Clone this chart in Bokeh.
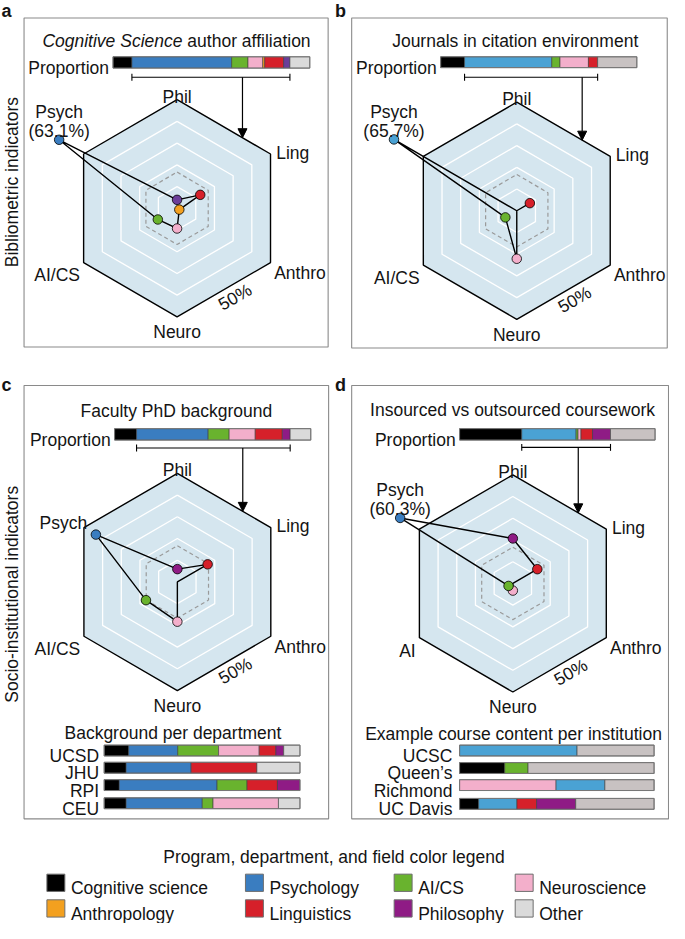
import math
from bokeh.plotting import figure
from bokeh.models import Range1d, Arrow, NormalHead
from bokeh.core.properties import value
from bokeh.embed import file_html
from bokeh.resources import INLINE

# ---------------- data ----------------
CATEGORIES = ["Cognitive science", "Psychology", "AI/CS", "Neuroscience",
              "Anthropology", "Linguistics", "Philosophy", "Other"]
RADAR_AXES = ["Phil", "Ling", "Anthro", "Neuro", "AI/CS", "Psych"]
RADAR_FIELDS = ["Philosophy", "Linguistics", "Anthropology", "Neuroscience", "AI/CS", "Psychology"]

a_proportion = [9.6, 50.7, 8.3, 7.5, 1.0, 9.6, 3.2, 10.1]
a_radar = [3.9, 12.4, 1.2, 9.3, 10.3, 63.1]

b_proportion = [12.2, 44.5, 4.2, 14.5, 0.0, 4.7, 0.0, 20.0]
b_radar = [0.0, 7.0, 0.0, 22.1, 6.1, 65.7]

c_proportion = [11.2, 36.5, 10.7, 13.3, 0.0, 13.8, 4.0, 10.5]
c_radar = [5.9, 16.2, 0.0, 18.3, 16.8, 43.6]

d_proportion = [31.8, 27.8, 1.0, 1.5, 0.0, 5.9, 9.2, 22.8]
d_radar = [20.7, 13.1, 0.0, 3.3, 2.3, 60.3]

c_departments = ["UCSD", "JHU", "RPI", "CEU"]
c_ucsd = [12.5, 25.0, 20.8, 20.7, 0.0, 8.5, 4.0, 8.3]
c_jhu = [11.2, 33.2, 0.0, 0.0, 0.0, 33.6, 0.0, 22.0]
c_rpi = [7.7, 49.9, 15.3, 0.0, 0.0, 15.5, 11.5, 0.0]
c_ceu = [11.2, 38.9, 5.5, 33.4, 0.0, 0.0, 0.0, 11.0]

d_institutions = ["UCSC", "Queen\u2019s", "Richmond", "UC Davis"]
d_ucsc_fields = ["Psychology", "Other"]
d_ucsc_values = [60.4, 39.6]
d_queens_fields = ["Cognitive science", "AI/CS", "Other"]
d_queens_values = [23.2, 12.0, 64.8]
d_richmond_fields = ["Neuroscience", "Psychology", "Other"]
d_richmond_values = [49.6, 25.1, 25.3]
d_ucdavis_fields = ["Cognitive science", "Psychology", "Linguistics", "Philosophy", "Other"]
d_ucdavis_values = [9.8, 19.7, 10.1, 20.1, 40.3]

# ---------------- style ----------------
FONT = "Liberation Sans"
FS = 17.5
TEXT = "#141414"
HEX_FILL = "#D5E6EF"
PAL = {"Cognitive science": "#000000", "Psychology": "#3A7DC0", "AI/CS": "#69B32E",
       "Neuroscience": "#F3AFCB", "Anthropology": "#F3A01F", "Linguistics": "#D6202A",
       "Philosophy": "#8F1B85", "Other": "#DADADA"}
PAL_A = dict(PAL, Philosophy="#6B3E99")
PAL_BD = dict(PAL, Psychology="#4AA2D4", Other="#C8C2C2")
R = 110.0
SCALE_MAX = 50.0
RING_LEVELS = [10, 20, 30, 40]
UNIFORM = 100.0 / 6
ANGLES = [90, 30, -30, -90, -150, 150]

p = figure(width=669, height=923, x_range=Range1d(2, 684), y_range=Range1d(939, 4),
           output_backend="svg", toolbar_location=None, min_border=0,
           x_axis_type=None, y_axis_type=None)
p.outline_line_color = None
p.background_fill_color = "white"


def T(x, y, s, size=FS, align="left", base="alphabetic", style="normal", angle=0.0):
    p.text(x=[x], y=[y], text=[s], text_font=value(FONT), text_font_size=value(f"{size}px"),
           text_align=align, text_baseline=base, text_font_style=style, angle=angle,
           text_color=TEXT)


def stacked(x0, width, ytop, h, cats, vals, pal):
    total = float(sum(vals))
    lefts, rights, cols, edges = [], [], [], {}
    acc = 0.0
    for c, v in zip(cats, vals):
        if v <= 0:
            continue
        l = x0 + acc / total * width
        acc += v
        r = x0 + acc / total * width
        lefts.append(l); rights.append(r); cols.append(pal[c]); edges[c] = (l, r)
    n = len(lefts)
    p.quad(left=lefts, right=rights, top=[ytop] * n, bottom=[ytop + h] * n,
           fill_color=cols, line_color="#3c3c3c", line_width=0.6)
    p.quad(left=[x0], right=[x0 + width], top=[ytop], bottom=[ytop + h],
           fill_color=None, line_color="#777777", line_width=1)
    return edges


def hexring(cx, cy, r):
    xs = [cx + r * math.cos(math.radians(a)) for a in ANGLES]
    ys = [cy - r * math.sin(math.radians(a)) for a in ANGLES]
    return xs + xs[:1], ys + ys[:1]


def radar(cx, cy, vals, pal, ai_label):
    xs, ys = hexring(cx, cy, R)
    p.patch(xs, ys, fill_color=HEX_FILL, line_color=None)
    for lv in RING_LEVELS:
        rx, ry = hexring(cx, cy, lv / SCALE_MAX * R)
        p.line(rx, ry, line_color="white", line_width=1.3)
    rx, ry = hexring(cx, cy, UNIFORM / SCALE_MAX * R)
    p.line(rx, ry, line_color="#9a9a9a", line_width=1.2, line_dash="4 3")
    p.line(xs, ys, line_color="black", line_width=1.4)
    px = [cx + v / SCALE_MAX * R * math.cos(math.radians(a)) for v, a in zip(vals, ANGLES)]
    py = [cy - v / SCALE_MAX * R * math.sin(math.radians(a)) for v, a in zip(vals, ANGLES)]
    p.line(px + px[:1], py + py[:1], line_color="black", line_width=1.4)
    mx = [x for x, v in zip(px, vals) if v > 0]
    my = [y for y, v in zip(py, vals) if v > 0]
    mc = [pal[f] for f, v in zip(RADAR_FIELDS, vals) if v > 0]
    p.scatter(mx, my, size=9.5, fill_color=mc, line_color="black", line_width=0.8)
    # axis labels
    T(cx, cy - 113, RADAR_AXES[0], align="center")
    T(cx + 101, cy - 56.5, RADAR_AXES[1])
    T(cx + 99, cy + 65.5, RADAR_AXES[2])
    T(cx, cy + 125.5, RADAR_AXES[3], align="center")
    T(cx - 99, cy + 68, ai_label, align="right")
    psych = vals[5]
    if psych > SCALE_MAX:
        T(px[5], py[5] - 28, RADAR_AXES[5], align="center")
        T(px[5], py[5] - 9, f"({psych:.1f}%)", align="center")
    else:
        T(cx - 92, cy - 59.5, RADAR_AXES[5], align="right")
    T(cx + 59, cy + 90, f"{int(SCALE_MAX)}%", align="center", base="middle", angle=math.pi / 6)


def header_bar(bar_x, bar_w, bar_y, bar_h, br_y, cx, cy, prop, pal):
    T(bar_x - 4, bar_y + bar_h, "Proportion", align="right")
    edges = stacked(bar_x, bar_w, bar_y, bar_h, CATEGORIES, prop, pal)
    x0 = edges["Psychology"][0]
    x1 = edges["Other"][0]
    p.segment(x0=[x0, x0, x1], y0=[br_y, br_y - 3.5, br_y - 3.5],
              x1=[x1, x0, x1], y1=[br_y, br_y + 3.5, br_y + 3.5],
              line_color="black", line_width=1.1)
    f = 0.7
    ax = cx + f * R * math.cos(math.radians(30))
    ay = cy - R + f * R / 2
    p.add_layout(Arrow(end=NormalHead(size=9, fill_color="black", line_color="black", line_width=1),
                       x_start=ax, y_start=br_y, x_end=ax, y_end=ay,
                       line_color="black", line_width=1.2))


def box(x0, y0, x1, y1):
    p.quad(left=[x0], right=[x1], top=[y0], bottom=[y1], fill_color=None,
           line_color="#8a8a8a", line_width=1.1)


# ---------------- panel a ----------------
box(26, 21.7, 336, 355)
T(3, 15, "a", size=18, style="bold")
T(187.5, 45, "Cognitive Science", align="right", style="italic")
T(192.5, 45, "author affiliation")
radar(182, 214.5, a_radar, PAL_A, "AI/CS")
header_bar(116.7, 200.6, 61, 11.5, 81.7, 182, 214.5, a_proportion, PAL_A)

# ---------------- panel b ----------------
box(360, 21.7, 681.7, 356)
T(343, 15, "b", size=18, style="bold")
T(526.7, 45, "Journals in citation environment", align="center")
radar(528.3, 217, b_radar, PAL_BD, "AI/CS")
header_bar(450.7, 200, 61, 11, 81.7, 528.3, 217, b_proportion, PAL_BD)

# ---------------- panel c ----------------
box(26, 394, 336.5, 833)
T(3, 393, "c", size=18, style="bold")
T(181.3, 420, "Faculty PhD background", align="center")
radar(182.3, 593, c_radar, PAL, "AI/CS")
header_bar(118.3, 200, 437.7, 11.6, 457.3, 182.3, 593, c_proportion, PAL)
T(177.8, 746, "Background per department", align="center")
c_rows = [c_ucsd, c_jhu, c_rpi, c_ceu]
c_tops = [758.3, 775.7, 793.3, 811.7]
for name, vals, top in zip(c_departments, c_rows, c_tops):
    stacked(107.7, 199.6, top, 11, CATEGORIES, vals, PAL)
    T(102.5, top + 11, name, align="right")

# ---------------- panel d ----------------
box(360, 394, 683, 833)
T(343, 393, "d", size=18, style="bold")
T(524, 419.3, "Insourced vs outsourced coursework", align="center")
radar(524.3, 594.5, d_radar, PAL, "AI")
header_bar(470, 199.3, 437.7, 11.6, 456.7, 524.3, 594.5, d_proportion, PAL_BD)
T(525, 747.3, "Example course content per institution", align="center")
d_rows_f = [d_ucsc_fields, d_queens_fields, d_richmond_fields, d_ucdavis_fields]
d_rows_v = [d_ucsc_values, d_queens_values, d_richmond_values, d_ucdavis_values]
d_tops = [758.3, 776, 793.3, 812.3]
for name, cats, vals, top in zip(d_institutions, d_rows_f, d_rows_v, d_tops):
    stacked(470, 198.3, top, 11, cats, vals, PAL_BD)
    T(462.7, top + 11, name, align="right")

# ---------------- side labels ----------------
T(13.5, 188, "Bibliometric indicators", align="center", base="middle", angle=math.pi / 2)
T(13.5, 605.5, "Socio-institutional indicators", align="center", base="middle", angle=math.pi / 2)

# ---------------- legend ----------------
T(342, 872, "Program, department, and field color legend", align="center")
col_x = [49.3, 251.7, 403.3, 526.7]
row_y = [889, 915]
for i, cat in enumerate(CATEGORIES):
    cx_ = col_x[i % 4]
    ry = row_y[i // 4]
    p.quad(left=[cx_], right=[cx_ + 18.3], top=[ry], bottom=[ry + 17.5],
           fill_color=PAL[cat], line_color="#6e6e6e", line_width=1)
    T(cx_ + 24.5, ry + 14.5, cat)

open("out.html", "w").write(file_html(p, INLINE))
